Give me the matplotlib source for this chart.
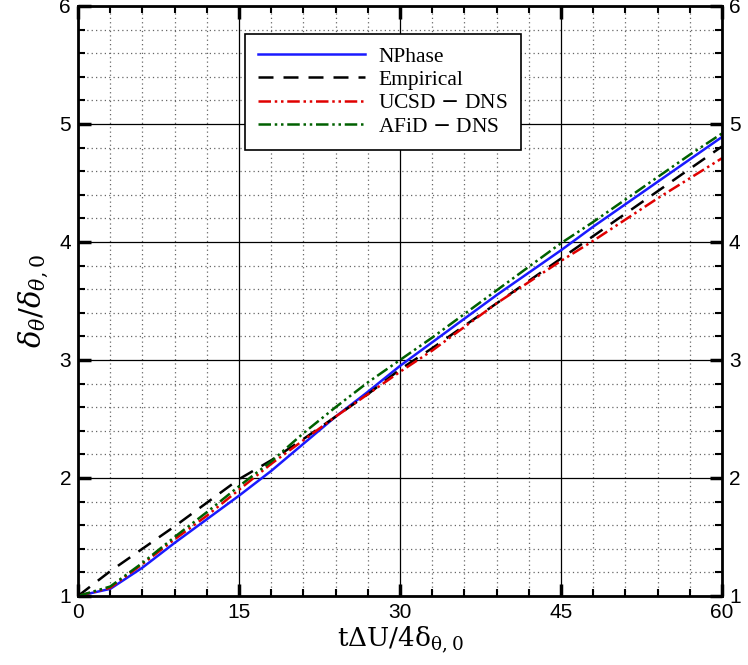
import numpy as np
import matplotlib
matplotlib.use("Agg")
from matplotlib import pyplot as plt
from matplotlib.ticker import MultipleLocator

plt.rcParams['mathtext.fontset'] = 'dejavuserif'

# values
t = [0, 3, 6, 9, 12, 15, 18, 21, 24, 27, 30, 33, 36, 39, 42, 45, 48, 51, 54, 57, 60]
nphase = [1.0, 1.06, 1.24, 1.45, 1.65, 1.85, 2.06, 2.29, 2.52, 2.73, 2.95,
          3.15, 3.35, 3.55, 3.74, 3.93, 4.13, 4.32, 4.51, 4.70, 4.89]
empirical = [1.0, 1.21, 1.40, 1.59, 1.79, 1.99, 2.15, 2.33, 2.52, 2.71, 2.92,
             3.10, 3.29, 3.48, 3.67, 3.86, 4.05, 4.24, 4.43, 4.62, 4.81]
ucsd = [1.0, 1.07, 1.27, 1.48, 1.68, 1.90, 2.12, 2.32, 2.52, 2.71, 2.90,
        3.08, 3.28, 3.48, 3.66, 3.84, 4.01, 4.19, 4.37, 4.54, 4.71]
afid = [1.0, 1.08, 1.28, 1.50, 1.71, 1.93, 2.14, 2.38, 2.60, 2.81, 3.00,
        3.19, 3.39, 3.59, 3.79, 3.99, 4.17, 4.36, 4.55, 4.74, 4.92]

fig = plt.figure(figsize=(7.48, 6.65), dpi=100)
ax = fig.add_axes([0.1043, 0.1038, 0.8610, 0.8872])

ax.plot(t, nphase, color='#1a1aff', lw=1.8, label='NPhase')
ax.plot(t, empirical, color='black', lw=1.8, ls=(0, (6, 4)), label='Empirical')
ax.plot(t, ucsd, color='#e00000', lw=1.8, ls=(0, (5, 1.5, 1, 1.5, 1, 1.5)), label='UCSD $-$ DNS')
ax.plot(t, afid, color='#006000', lw=1.8, ls=(0, (5, 1.5, 1, 1.5, 1, 1.5)), label='AFiD $-$ DNS')

ax.set_xlim(0, 60)
ax.set_ylim(1, 6)
ax.xaxis.set_major_locator(MultipleLocator(15))
ax.xaxis.set_minor_locator(MultipleLocator(3))
ax.yaxis.set_major_locator(MultipleLocator(1))
ax.yaxis.set_minor_locator(MultipleLocator(0.2))

ax.grid(which='major', color='black', lw=0.9, ls='-')
ax.grid(which='minor', color='#666666', lw=0.9, ls=(0, (1, 2.5)))
ax.set_axisbelow(True)

for s in ax.spines.values():
    s.set_linewidth(2)

ax.tick_params(which='both', direction='in', top=True, right=True,
               labelright=True, labelsize=15, width=1.5)
ax.tick_params(which='major', length=9, width=2.5, pad=5)
ax.tick_params(which='minor', length=5)
ax.tick_params(axis='y', which='major', pad=5)
for lab in ax.get_xticklabels() + ax.get_yticklabels() + ax.yaxis.get_ticklabels(which='major'):
    lab.set_family('Liberation Sans')

ax.set_xlabel(r'$\mathrm{t\Delta U/4\delta_{\theta,0}}$', fontsize=19, labelpad=2)
ax.set_ylabel(r'$\delta_\theta/\delta_{\theta,0}$', fontsize=21, labelpad=6)

leg = ax.legend(loc='upper left', bbox_to_anchor=(0.259, 0.953),
                prop={'family': 'Liberation Serif', 'size': 15.5},
                handlelength=5.0, handletextpad=0.6, framealpha=1, fancybox=False,
                edgecolor='black', borderpad=0.6, labelspacing=0.15,
                borderaxespad=0)
leg.get_frame().set_linewidth(1.2)

fig.savefig('out.png', dpi=100)
